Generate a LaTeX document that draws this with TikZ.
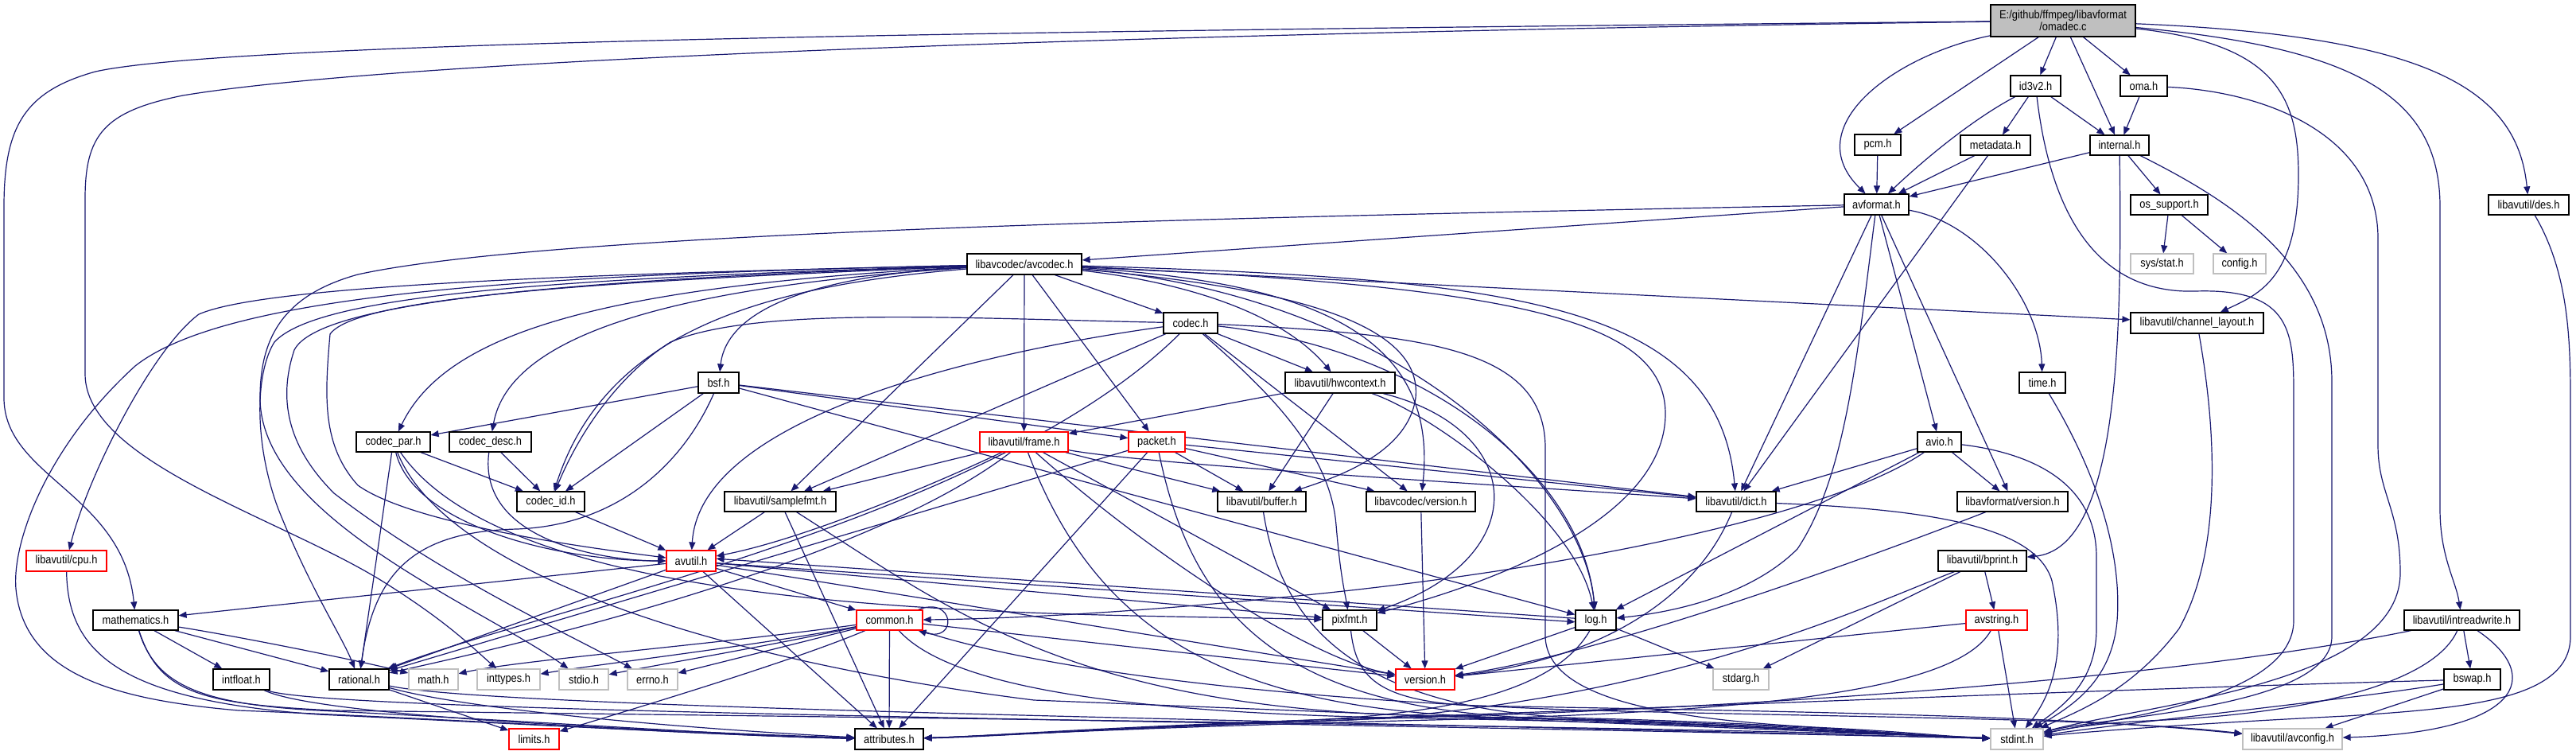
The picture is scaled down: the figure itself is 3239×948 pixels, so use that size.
\documentclass[tikz,border=0pt]{standalone}
\usepackage{fontspec}
\usetikzlibrary{arrows.meta}
\newfontfamily\gvfont{Liberation Sans}[FakeStretch=0.88]
\definecolor{edgec}{HTML}{191970}
\definecolor{redb}{HTML}{FF0000}
\definecolor{grayb}{HTML}{BFBFBF}
\pgfdeclarelayer{bg}
\pgfsetlayers{bg,main}
\newcommand\gnode[7][]{%
  \pgfmathsetmacro\gnw{(#4-#2)*0.5}%
  \pgfmathsetmacro\gnh{(#5-#3)*0.5}%
  \pgfmathsetmacro\gnx{(#2+#4)/2}%
  \pgfmathsetmacro\gny{(#3+#5)/2}%
  \node[box,#1,minimum width=\gnw pt,minimum height=\gnh pt] (#6) at (\gnx,\gny) {#7};}
\begin{document}
\begin{tikzpicture}[x=0.5pt,y=-0.5pt,
  box/.style={draw=black,line width=0.6pt,fill=white,inner sep=0pt,text=black,
    font=\gvfont\fontsize{7.3pt}{7.6pt}\selectfont},
  redbox/.style={draw=redb},
  graybox/.style={draw=grayb},
  edg/.style={draw=edgec,line width=0.6pt,-{Triangle[length=5pt,width=4pt]}}]
\useasboundingbox (0,0) rectangle (3239,948);
% ---------------- nodes ----------------
\gnode[fill=grayb,align=center]{2503}{6}{2685}{46}{O}{E:/github/ffmpeg/libavformat\\/omadec.c}
\gnode{2528}{95}{2591}{121}{id3v2}{id3v2.h}
\gnode{2666}{95}{2725}{121}{oma}{oma.h}
\gnode{2332}{169}{2390}{195}{pcm}{pcm.h}
\gnode{2465}{170}{2553}{195}{metadata}{metadata.h}
\gnode{2628}{170}{2702}{195}{internal}{internal.h}
\gnode{2319}{244}{2400}{270}{avformat}{avformat.h}
\gnode{2679}{245}{2776}{270}{ossupport}{os\_support.h}
\gnode{3129}{245}{3230}{270}{des}{libavutil/des.h}
\gnode[graybox]{2679}{319}{2758}{344}{sysstat}{sys/stat.h}
\gnode[graybox]{2783}{319}{2849}{344}{config}{config.h}
\gnode{1216}{319}{1360}{345}{avcodec}{libavcodec/avcodec.h}
\gnode{2679}{393}{2846}{419}{chlayout}{libavutil/channel\_layout.h}
\gnode{1463}{393}{1531}{419}{codec}{codec.h}
\gnode{2539}{468}{2597}{494}{time}{time.h}
\gnode{878}{468}{929}{494}{bsf}{bsf.h}
\gnode{1616}{468}{1754}{494}{hwcontext}{libavutil/hwcontext.h}
\gnode{448}{543}{541}{568}{codecpar}{codec\_par.h}
\gnode{565}{543}{668}{568}{codecdesc}{codec\_desc.h}
\gnode[redbox]{1232}{543}{1343}{568}{frame}{libavutil/frame.h}
\gnode[redbox]{1419}{543}{1490}{568}{packet}{packet.h}
\gnode{2411}{543}{2466}{568}{avio}{avio.h}
\gnode{650}{618}{735}{643}{codecid}{codec\_id.h}
\gnode{911}{618}{1051}{643}{samplefmt}{libavutil/samplefmt.h}
\gnode{1531}{618}{1642}{643}{buffer}{libavutil/buffer.h}
\gnode{1718}{618}{1855}{643}{lavcversion}{libavcodec/version.h}
\gnode{2133}{618}{2233}{643}{dict}{libavutil/dict.h}
\gnode{2461}{618}{2600}{643}{lavfversion}{libavformat/version.h}
\gnode[redbox]{33}{692}{134}{718}{cpu}{libavutil/cpu.h}
\gnode[redbox]{838}{692}{900}{718}{avutil}{avutil.h}
\gnode{2437}{692}{2548}{718}{bprint}{libavutil/bprint.h}
\gnode{117}{767}{224}{792}{mathematics}{mathematics.h}
\gnode[redbox]{1077}{767}{1160}{792}{common}{common.h}
\gnode{1663}{767}{1731}{792}{pixfmt}{pixfmt.h}
\gnode{1981}{767}{2032}{792}{log}{log.h}
\gnode[redbox]{2472}{767}{2549}{792}{avstring}{avstring.h}
\gnode{3023}{767}{3168}{792}{intreadwrite}{libavutil/intreadwrite.h}
\gnode{268}{841}{339}{867}{intfloat}{intfloat.h}
\gnode{414}{841}{489}{867}{rational}{rational.h}
\gnode[graybox]{514}{841}{576}{867}{math}{math.h}
\gnode[graybox]{600}{841}{679}{867}{inttypes}{inttypes.h}
\gnode[graybox]{703}{841}{765}{867}{stdio}{stdio.h}
\gnode[graybox]{789}{841}{852}{867}{errno}{errno.h}
\gnode[redbox]{1755}{841}{1829}{867}{version}{version.h}
\gnode[graybox]{2154}{841}{2224}{867}{stdarg}{stdarg.h}
\gnode{3073}{841}{3144}{867}{bswap}{bswap.h}
\gnode[redbox]{640}{916}{703}{942}{limits}{limits.h}
\gnode{1075}{916}{1161}{942}{attributes}{attributes.h}
\gnode[graybox]{2503}{916}{2569}{942}{stdint}{stdint.h}
\gnode[graybox]{2820}{916}{2945}{942}{avconfig}{libavutil/avconfig.h}
% ---------------- edges ----------------
\begin{pgfonlayer}{bg}
\fill[white] (0,0) rectangle (3239,948);
% omadec.c
\draw[edg] (O) .. controls (1400,38) and (300,50) .. (120,90) .. controls (30,115) and (5,160) .. (5,260) -- (5,500) .. controls (5,600) and (155,620) .. (mathematics);
\draw[edg] (O) .. controls (1400,42) and (500,75) .. (230,120) .. controls (130,140) and (107,170) .. (107,250) -- (107,470) .. controls (107,580) and (350,650) .. (480,730) .. controls (560,780) and (590,810) .. (inttypes);
\draw[edg] (O) .. controls (2380,70) and (2260,160) .. (avformat);
\draw[edg] (O) -- (pcm);
\draw[edg] (O) -- (id3v2);
\draw[edg] (O) -- (internal);
\draw[edg] (O) -- (oma);
\draw[edg] (O) .. controls (2860,55) and (2890,120) .. (2890,220) .. controls (2890,350) and (2840,370) .. (chlayout);
\draw[edg] (O) .. controls (2960,60) and (3068,120) .. (3068,260) -- (3068,640) .. controls (3068,700) and (3088,730) .. (intreadwrite);
\draw[edg] (O) .. controls (3050,45) and (3165,110) .. (des);
% id3v2.h
\draw[edg] (id3v2) -- (metadata);
\draw[edg] (id3v2) -- (internal);
\draw[edg] (id3v2) .. controls (2480,150) and (2420,200) .. (avformat);
\draw[edg] (id3v2) .. controls (2575,240) and (2620,370) .. (2760,366) .. controls (2884,362) and (2884,420) .. (2884,500) -- (2884,780) .. controls (2884,880) and (2650,905) .. (stdint);
% oma.h
\draw[edg] (oma) -- (internal);
\draw[edg] (oma) .. controls (2850,115) and (2990,170) .. (2990,300) -- (2990,560) .. controls (2990,620) and (3018,640) .. (3018,720) .. controls (3018,860) and (2700,885) .. (stdint);
% pcm, metadata
\draw[edg] (pcm) -- (avformat);
\draw[edg] (metadata) -- (avformat);
\draw[edg] (metadata) -- (dict);
% internal.h
\draw[edg] (internal) -- (avformat);
\draw[edg] (internal) -- (ossupport);
\draw[edg] (internal) .. controls (2668,420) and (2665,690) .. (bprint);
\draw[edg] (internal) .. controls (2800,250) and (2932,330) .. (2932,480) -- (2932,800) .. controls (2932,890) and (2650,900) .. (stdint);
% os_support, des
\draw[edg] (ossupport) -- (sysstat);
\draw[edg] (ossupport) -- (config);
\draw[edg] (des) .. controls (3228,340) and (3232,420) .. (3232,500) -- (3232,800) .. controls (3232,880) and (3100,890) .. (2950,900) .. controls (2750,910) and (2620,920) .. (stdint);
% avformat.h
\draw[edg] (avformat) -- (avcodec);
\draw[edg] (avformat) .. controls (1600,272) and (700,290) .. (450,345) .. controls (360,370) and (327,420) .. (327,500) .. controls (327,650) and (600,760) .. (stdio);
\draw[edg] (avformat) -- (dict);
\draw[edg] (avformat) .. controls (2335,450) and (2320,600) .. (2260,690) .. controls (2200,750) and (2100,770) .. (log);
\draw[edg] (avformat) -- (avio);
\draw[edg] (avformat) -- (lavfversion);
\draw[edg] (avformat) .. controls (2490,280) and (2565,380) .. (time);
% avcodec.h
\draw[edg] (avcodec) -- (codec);
\draw[edg] (avcodec) .. controls (1050,345) and (915,380) .. (bsf);
\draw[edg] (avcodec) -- (frame);
\draw[edg] (avcodec) -- (packet);
\draw[edg] (avcodec) -- (samplefmt);
\draw[edg] (avcodec) .. controls (800,352) and (450,370) .. (415,420) .. controls (408,500) and (405,560) .. (450,610) .. controls (520,660) and (750,690) .. (avutil);
\draw[edg] (avcodec) .. controls (1650,355) and (1810,420) .. (lavcversion);
\draw[edg] (avcodec) .. controls (1450,350) and (1600,380) .. (hwcontext);
\draw[edg] (avcodec) .. controls (1600,360) and (1790,400) .. (1780,500) .. controls (1770,570) and (1680,600) .. (buffer);
\draw[edg] (avcodec) .. controls (1900,350) and (2160,380) .. (dict);
\draw[edg] (avcodec) .. controls (1750,370) and (1990,600) .. (log);
\draw[edg] (avcodec) .. controls (1900,360) and (2094,400) .. (2094,520) .. controls (2094,660) and (1850,740) .. (pixfmt);
\draw[edg] (avcodec) .. controls (700,350) and (400,370) .. (345,430) .. controls (320,470) and (320,560) .. (350,640) .. controls (390,740) and (430,800) .. (rational);
\draw[edg] (avcodec) .. controls (700,352) and (400,380) .. (370,440) .. controls (350,500) and (360,560) .. (420,620) .. controls (550,720) and (700,790) .. (errno);
\draw[edg] (avcodec) .. controls (700,345) and (290,365) .. (170,460) .. controls (60,560) and (15,680) .. (20,740) .. controls (30,850) and (150,880) .. (300,893) .. controls (600,905) and (900,925) .. (attributes);
\draw[edg] (avcodec) .. controls (700,345) and (330,360) .. (250,395) .. controls (190,440) and (110,600) .. (cpu);
\draw[edg] (avcodec) -- (chlayout);
\draw[edg] (avcodec) .. controls (750,360) and (560,420) .. (codecpar);
\draw[edg] (avcodec) .. controls (850,360) and (640,420) .. (codecdesc);
\draw[edg] (avcodec) .. controls (950,360) and (760,420) .. (codecid);
% codec.h
\draw[edg] (codec) -- (hwcontext);
\draw[edg] (codec) -- (samplefmt);
\draw[edg] (codec) -- (lavcversion);
\draw[edg] (codec) .. controls (1250,440) and (880,520) .. (avutil);
\draw[edg] (codec) .. controls (1800,440) and (1990,600) .. (log);
\draw[edg] (codec) .. controls (1580,480) and (1672,560) .. (1680,660) .. controls (1685,720) and (1690,740) .. (pixfmt);
\draw[edg] (codec) .. controls (1250,650) and (700,760) .. (rational);
\draw[edg] (codec) .. controls (1200,400) and (950,385) .. (843,430) .. controls (780,470) and (730,540) .. (codecid);
\draw[edg] (codec) .. controls (1800,420) and (1940,440) .. (1943,560) -- (1943,800) .. controls (1945,880) and (2100,905) .. (2300,915) .. controls (2400,920) and (2450,926) .. (stdint);
% bsf.h
\draw[edg] (bsf) -- (dict);
\draw[edg] (bsf) -- (log);
\draw[edg] (bsf) .. controls (860,580) and (780,660) .. (650,665) .. controls (520,668) and (470,720) .. (rational);
\draw[edg] (bsf) -- (codecid);
\draw[edg] (bsf) -- (codecpar);
\draw[edg] (bsf) -- (packet);
% codec_par.h, codec_desc.h, codec_id.h
\draw[edg] (codecpar) -- (codecid);
\draw[edg] (codecpar) -- (rational);
\draw[edg] (codecpar) .. controls (520,660) and (700,705) .. (avutil);
\draw[edg] (codecpar) .. controls (650,780) and (1300,770) .. (pixfmt);
\draw[edg] (codecpar) .. controls (560,720) and (900,830) .. (1300,880) .. controls (1800,900) and (2300,920) .. (stdint);
\draw[edg] (codecdesc) .. controls (600,680) and (760,705) .. (avutil);
\draw[edg] (codecdesc) -- (codecid);
\draw[edg] (codecid) -- (avutil);
% frame.h
\draw[edg] (frame) -- (samplefmt);
\draw[edg] (frame) .. controls (1150,620) and (1000,680) .. (avutil);
\draw[edg] (frame) .. controls (1100,700) and (700,800) .. (rational);
\draw[edg] (frame) -- (buffer);
\draw[edg] (frame) .. controls (1450,585) and (1900,610) .. (dict);
\draw[edg] (frame) -- (pixfmt);
\draw[edg] (frame) .. controls (1450,700) and (1650,830) .. (version);
\draw[edg] (frame) .. controls (1380,800) and (1550,895) .. (1900,902) .. controls (2200,910) and (2420,926) .. (stdint);
% packet.h
\draw[edg] (packet) .. controls (1500,780) and (1620,895) .. (1950,903) .. controls (2250,910) and (2420,926) .. (stdint);
\draw[edg] (packet) -- (attributes);
\draw[edg] (packet) -- (buffer);
\draw[edg] (packet) -- (dict);
\draw[edg] (packet) -- (rational);
\draw[edg] (packet) -- (lavcversion);
% samplefmt.h
\draw[edg] (samplefmt) -- (avutil);
\draw[edg] (samplefmt) -- (attributes);
\draw[edg] (samplefmt) .. controls (1200,770) and (1350,890) .. (1800,900) .. controls (2200,910) and (2420,926) .. (stdint);
% hwcontext.h
\draw[edg] (hwcontext) -- (buffer);
\draw[edg] (hwcontext) -- (frame);
\draw[edg] (hwcontext) .. controls (1800,520) and (1980,650) .. (log);
\draw[edg] (hwcontext) .. controls (1920,540) and (1930,700) .. (pixfmt);
% buffer, versions, dict
\draw[edg] (buffer) .. controls (1610,780) and (1700,895) .. (2000,903) .. controls (2280,910) and (2420,926) .. (stdint);
\draw[edg] (lavcversion) -- (version);
\draw[edg] (dict) .. controls (2130,760) and (2000,830) .. (version);
\draw[edg] (dict) .. controls (2420,640) and (2560,660) .. (2580,730) .. controls (2595,800) and (2590,860) .. (stdint);
\draw[edg] (lavfversion) .. controls (2300,720) and (2000,825) .. (version);
% avio.h
\draw[edg] (avio) .. controls (2560,570) and (2636,610) .. (2636,700) -- (2636,790) .. controls (2636,860) and (2590,890) .. (stdint);
\draw[edg] (avio) .. controls (2300,650) and (1950,720) .. (1600,752) .. controls (1400,772) and (1250,778) .. (common);
\draw[edg] (avio) -- (dict);
\draw[edg] (avio) -- (log);
\draw[edg] (avio) -- (lavfversion);
% time.h, channel_layout.h, cpu.h
\draw[edg] (time) .. controls (2640,600) and (2668,700) .. (2662,780) .. controls (2655,860) and (2600,890) .. (stdint);
\draw[edg] (chlayout) .. controls (2790,560) and (2790,700) .. (2740,790) .. controls (2680,870) and (2610,895) .. (stdint);
\draw[edg] (cpu) .. controls (85,820) and (150,880) .. (400,898) .. controls (700,912) and (950,926) .. (attributes);
% avutil.h
\draw[edg] (avutil) -- (common);
\draw[edg] (avutil) -- (version);
\draw[edg] (avutil) -- (rational);
\draw[edg] (avutil) -- (mathematics);
\draw[edg] (avutil.-5) -- (log.185);
\draw[edg] (avutil) -- (pixfmt);
\draw[edg] (avutil) -- (attributes);
% bprint.h
\draw[edg] (bprint) -- (avstring);
\draw[edg] (bprint) -- (stdarg);
\draw[edg] (bprint) .. controls (2350,760) and (2100,880) .. (1700,905) .. controls (1400,915) and (1250,925) .. (attributes);
% mathematics.h
\draw[edg] (mathematics) -- (intfloat);
\draw[edg] (mathematics) -- (rational);
\draw[edg] (mathematics) .. controls (300,800) and (450,830) .. (math);
\draw[edg] (mathematics) .. controls (195,860) and (250,885) .. (400,893) .. controls (700,908) and (950,926) .. (attributes);
\draw[edg] (mathematics) .. controls (200,870) and (250,885) .. (420,893) .. controls (1200,903) and (2200,915) .. (stdint);
% common.h
\draw[edg] (common) -- (errno);
\draw[edg] (common) .. controls (900,810) and (650,830) .. (math);
\draw[edg] (common) .. controls (950,812) and (750,835) .. (inttypes);
\draw[edg] (common) .. controls (950,815) and (830,835) .. (stdio);
\draw[edg] (common) .. controls (1000,830) and (800,890) .. (limits);
\draw[edg] (common) -- (attributes);
\draw[edg] (common) .. controls (1200,870) and (1450,898) .. (1800,903) .. controls (2200,910) and (2420,926) .. (stdint);
\draw[edg] (common) -- (version);
\draw[edg] (common) .. controls (1300,840) and (1600,880) .. (2000,893) .. controls (2400,903) and (2650,903) .. (avconfig);
\draw[edg] (common.20) .. controls (1200,748) and (1205,808) .. (common.-20);
% pixfmt.h
\draw[edg] (pixfmt) -- (version);
\draw[edg] (pixfmt) .. controls (1705,850) and (1730,880) .. (1850,887) .. controls (2300,895) and (2600,900) .. (avconfig);
% log.h
\draw[edg] (log) -- (stdarg);
\draw[edg] (log.175) -- (avutil.5);
\draw[edg] (log) .. controls (1960,860) and (1850,895) .. (1650,905) .. controls (1400,915) and (1250,926) .. (attributes);
\draw[edg] (log) -- (version);
% avstring.h
\draw[edg] (avstring) -- (stdint);
\draw[edg] (avstring) .. controls (2460,870) and (2200,895) .. (1800,905) .. controls (1400,915) and (1250,925) .. (attributes);
\draw[edg] (avstring) -- (version);
% intreadwrite.h
\draw[edg] (intreadwrite) .. controls (3060,860) and (2900,898) .. (2700,906) .. controls (2620,910) and (2590,918) .. (stdint);
\draw[edg] (intreadwrite) .. controls (2800,840) and (2400,878) .. (1900,898) .. controls (1500,910) and (1250,925) .. (attributes);
\draw[edg] (intreadwrite) -- (bswap);
\draw[edg] (intreadwrite) .. controls (3200,850) and (3170,920) .. (avconfig);
% intfloat.h, rational.h
\draw[edg] (intfloat) .. controls (400,900) and (800,918) .. (attributes);
\draw[edg] (intfloat) .. controls (400,895) and (1500,905) .. (stdint);
\draw[edg] (rational) -- (limits);
\draw[edg] (rational) .. controls (600,895) and (900,918) .. (attributes);
\draw[edg] (rational) .. controls (620,890) and (1600,905) .. (stdint);
% bswap.h
\draw[edg] (bswap) .. controls (2950,880) and (2700,905) .. (stdint);
\draw[edg] (bswap) .. controls (2700,865) and (2200,885) .. (1800,900) .. controls (1400,912) and (1250,925) .. (attributes);
\draw[edg] (bswap) -- (avconfig);
\end{pgfonlayer}
\end{tikzpicture}
\end{document}
